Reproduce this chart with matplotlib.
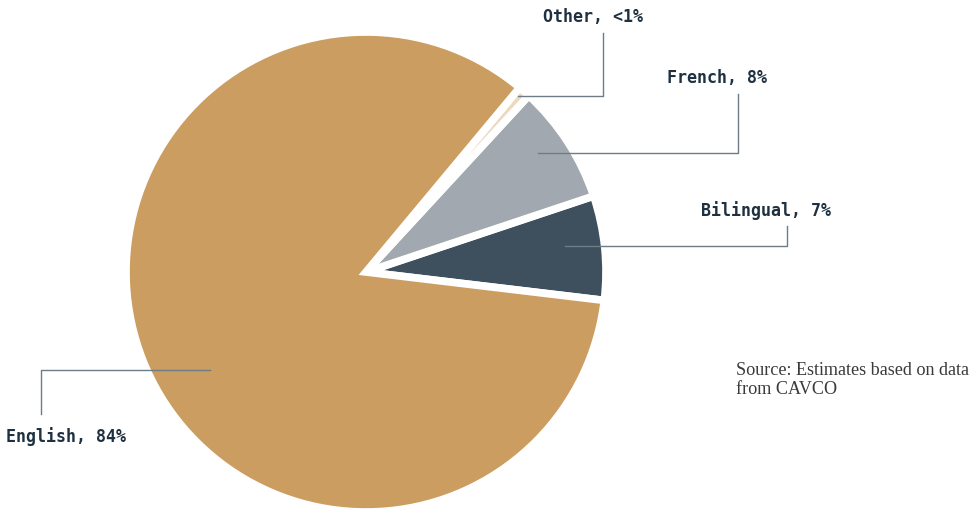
import matplotlib.pyplot as plt

# share of productions by language
categories = ["Bilingual", "French", "Other", "English"]
shares = [7, 8, 0.8, 84]
labels = ["Bilingual, 7%", "French, 8%", "Other, <1%", "English, 84%"]
colors = ["#3E505D", "#A1A8AF", "#EDD9BD", "#CC9D61"]

W, H = 977, 510

fig = plt.figure(figsize=(W / 100, H / 100), dpi=100)
ax = fig.add_axes([0, 0, 1, 1])

ax.pie(shares, colors=colors, startangle=-6.8, counterclock=True,
       center=(366, H - 273), radius=240,
       wedgeprops=dict(edgecolor="white", linewidth=5.5))

ax.set_xlim(0, W)
ax.set_ylim(0, H)
ax.set_aspect("equal")
ax.axis("off")

# leader lines (pixel coords from top-left) and label anchors
leaders = {
    "Bilingual": [(565, 247), (787, 247), (787, 227)],
    "French": [(538, 154), (738, 154), (738, 95)],
    "Other": [(518, 97), (603, 97), (603, 34)],
    "English": [(210, 371), (41, 371), (41, 415)],
}
label_pos = {
    "Bilingual": (766, 211),
    "French": (717, 78),
    "Other": (593, 17),
    "English": (66, 437),
}

line_col = "#6E7C87"
text_col = "#1F3140"
for cat, lab in zip(categories, labels):
    pts = leaders[cat]
    ax.plot([p[0] for p in pts], [H - p[1] for p in pts], color=line_col, lw=1.0)
    x, y = label_pos[cat]
    ax.text(x, H - y, lab, ha="center", va="center", fontsize=12,
            family="DejaVu Sans Mono", weight="bold", color=text_col)

ax.text(736, H - 380, "Source: Estimates based on data\nfrom CAVCO",
        ha="left", va="center", fontsize=13.1, family="Liberation Serif",
        color="#3A3A3A", linespacing=1.15)

fig.savefig("out.png", dpi=100)
